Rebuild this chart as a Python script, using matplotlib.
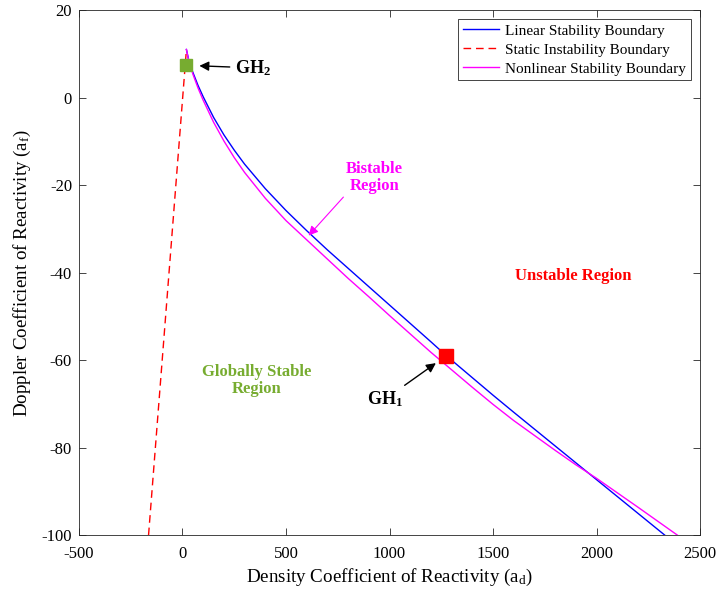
import matplotlib
matplotlib.use("Agg")
import matplotlib.pyplot as plt

plt.rcParams['font.family'] = ['Liberation Serif', 'DejaVu Serif']
plt.rcParams['mathtext.fontset'] = 'custom'
plt.rcParams['mathtext.rm'] = 'Liberation Serif'
plt.rcParams['mathtext.bf'] = 'Liberation Serif:bold'
plt.rcParams['mathtext.it'] = 'Liberation Serif:italic'
plt.rcParams['axes.unicode_minus'] = False

# linear stability boundary (a_d, a_f)
lin_ad = [19, 30, 50, 75, 100, 150, 200, 250, 300, 400, 500, 600, 700, 800, 900,
          1000, 1100, 1200, 1275, 1400, 1500, 1600, 1800, 1900, 2000, 2200, 2330]
lin_af = [11, 8.6, 5.8, 2.8, 0.2, -4.5, -8.5, -12.0, -15.2, -20.8, -25.8, -30.4,
          -34.8, -39.0, -43.2, -47.4, -51.6, -55.8, -59.0, -64.0, -68.0, -71.9,
          -79.6, -83.45, -87.3, -95.0, -100]

# nonlinear stability boundary
nl_ad = [19, 30, 50, 75, 100, 150, 200, 250, 300, 400, 500, 600, 700, 800, 900,
         1000, 1100, 1200, 1275, 1400, 1500, 1600, 1800, 1900, 2000, 2200, 2391]
nl_af = [11, 8.4, 5.4, 2.2, -0.6, -5.6, -9.9, -13.7, -17.1, -23.0, -28.1, -32.5,
         -36.9, -41.3, -45.5, -49.8, -54.0, -58.2, -61.2, -66.2, -70.1, -73.8,
         -80.6, -83.9, -87.0, -93.6, -100]

# static instability boundary
st_ad = [-164, 19]
st_af = [-100, 11]

# codimension-2 points
gh1 = (1275, -59.0)
gh2 = (15, 7.5)

green = '#77AC30'
magenta = '#FF00FF'

fig = plt.figure(figsize=(7.18, 5.96), dpi=100)
ax = fig.add_axes([0.110, 0.102, 0.865, 0.881])

ax.plot(lin_ad, lin_af, color='b', lw=1.0, label='Linear Stability Boundary')
ax.plot(st_ad, st_af, color='r', ls=(0, (5.5, 3.5)), lw=1.0, label='Static Instability Boundary')
ax.plot(nl_ad, nl_af, color=magenta, lw=1.0, label='Nonlinear Stability Boundary')

ax.plot(*gh2, marker='s', ms=9.2, color=green, ls='none')
ax.plot(*gh1, marker='s', ms=10, color='r', ls='none')

ax.set_xlim(-500, 2500)
ax.set_ylim(-100, 20)
ax.set_xticks(range(-500, 2501, 500))
ax.set_yticks(range(-100, 21, 20))
ax.tick_params(direction='in', top=True, right=True, labelsize=12,
               length=5, width=0.6, color='#262626')
ax.tick_params(axis='x', pad=8)
ax.tick_params(axis='y', pad=5)
for s in ax.spines.values():
    s.set_linewidth(0.6)
    s.set_color('#262626')

ax.set_xlabel('Density Coefficient of Reactivity (a$_\\mathrm{d}$)', fontsize=13.7, labelpad=3)
ax.set_ylabel('Doppler Coefficient of Reactivity (a$_\\mathrm{f}$)', fontsize=13.7, labelpad=6)

leg = ax.legend(loc='upper right', fontsize=11, fancybox=False, framealpha=1,
                edgecolor='#262626', handlelength=2.4, borderpad=0.3,
                labelspacing=0.35, handletextpad=0.4, borderaxespad=0.6)
leg.get_frame().set_linewidth(0.6)

arrow_k = dict(arrowstyle='-|>', color='k', lw=1.0, mutation_scale=14)
ax.annotate('GH$_\\mathbf{2}$', xy=(68, 7.3), xytext=(255, 6.8), fontsize=13,
            fontweight='bold', va='center', ha='left', arrowprops=arrow_k)
ax.annotate('GH$_\\mathbf{1}$', xy=(1235, -60.3), xytext=(1063, -69), fontsize=13,
            fontweight='bold', va='center', ha='right', arrowprops=arrow_k)

ax.annotate('Bistable\nRegion', xy=(600, -32.0), xytext=(927, -18.3),
            fontsize=12, fontweight='bold', color=magenta, ha='center', va='center',
            linespacing=1.1,
            arrowprops=dict(arrowstyle='-|>', color=magenta, lw=0.8, mutation_scale=14,
                            shrinkA=0, relpos=(0.0, 0.0)))
ax.text(1889, -40.7, 'Unstable Region', fontsize=12, fontweight='bold',
        color='r', ha='center', va='center')
ax.text(357, -64.7, 'Globally Stable\nRegion', fontsize=12, fontweight='bold',
        color=green, ha='center', va='center', linespacing=1.1)

fig.savefig('out.png', dpi=100)
